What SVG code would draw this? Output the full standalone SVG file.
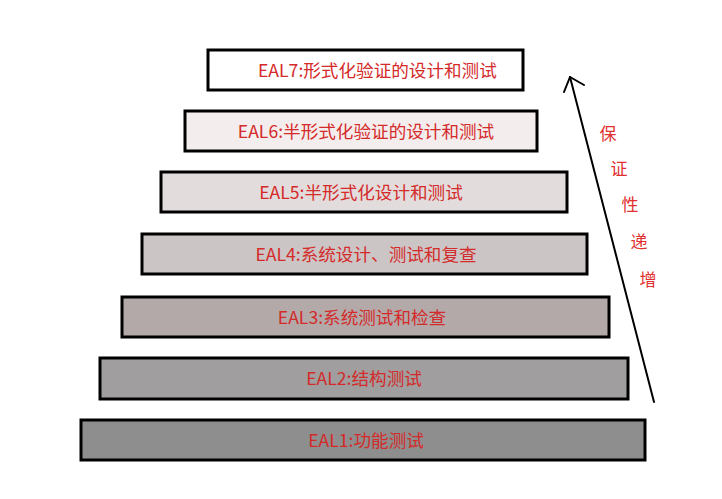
<svg xmlns="http://www.w3.org/2000/svg" width="722" height="499" viewBox="0 0 722 499">
<style>
.box{stroke:#000;stroke-width:3}
.lbl{font-family:"Noto Sans CJK SC","Noto Sans",sans-serif;font-size:17.6px;fill:#d42a2a;dominant-baseline:central}
.side{font-family:"Noto Sans CJK SC",sans-serif;font-size:17px;fill:#e03030;text-anchor:middle;dominant-baseline:central}
</style>
<rect width="722" height="499" fill="#fff"/>
<g id="eal7"><rect class="box" x="208" y="50" width="315" height="40" fill="#ffffff"/><text class="lbl" x="258" y="69.5">EAL7:形式化验证的设计和测试</text></g>
<g id="eal6"><rect class="box" x="185" y="111" width="352" height="40" fill="#f3eded"/><text class="lbl" x="366" y="130.5" text-anchor="middle">EAL6:半形式化验证的设计和测试</text></g>
<g id="eal5"><rect class="box" x="161" y="172" width="406" height="40" fill="#e3dcdc"/><text class="lbl" x="361" y="191.5" text-anchor="middle">EAL5:半形式化设计和测试</text></g>
<g id="eal4"><rect class="box" x="142" y="234" width="445" height="40" fill="#ccc5c5"/><text class="lbl" x="366" y="253.5" text-anchor="middle">EAL4:系统设计、测试和复查</text></g>
<g id="eal3"><rect class="box" x="122" y="297" width="487" height="40" fill="#b3a9a9"/><text class="lbl" x="362" y="316.5" text-anchor="middle">EAL3:系统测试和检查</text></g>
<g id="eal2"><rect class="box" x="100" y="358" width="528" height="41" fill="#a09e9e"/><text class="lbl" x="364" y="377.5" text-anchor="middle">EAL2:结构测试</text></g>
<g id="eal1"><rect class="box" x="81" y="420" width="564" height="40" fill="#8e8e8e"/><text class="lbl" x="366" y="439.5" text-anchor="middle">EAL1:功能测试</text></g>
<g id="connectors" fill="none" stroke="#000" stroke-width="2" stroke-linecap="round" stroke-linejoin="round">
<line x1="654" y1="402" x2="570" y2="77"/>
<polyline points="564,92 570,77 584,85"/>
</g>
<g id="side-label">
<text class="side" x="608" y="132">保</text>
<text class="side" x="619" y="167">证</text>
<text class="side" x="630" y="203">性</text>
<text class="side" x="639" y="240">递</text>
<text class="side" x="648" y="278">增</text>
</g>
</svg>
